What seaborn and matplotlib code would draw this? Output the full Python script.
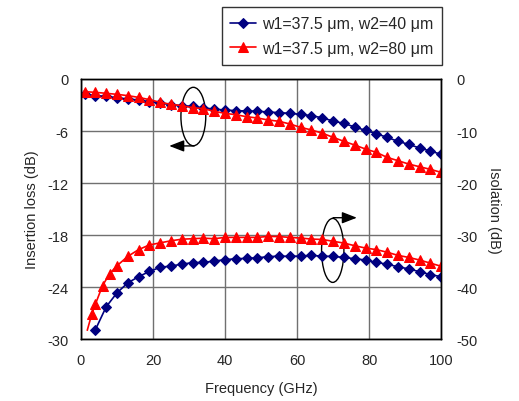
import matplotlib
matplotlib.use("Agg")
import matplotlib.pyplot as plt
from matplotlib.patches import Ellipse
import seaborn as sns
import numpy as np

# insertion loss (left axis), 1..100 GHz every 3 GHz
freq_il = list(range(1, 101, 3))
il_w40 = [-1.73, -1.92, -2.0, -2.15, -2.31, -2.42, -2.62, -2.77, -2.96, -3.08,
          -3.15, -3.33, -3.48, -3.58, -3.65, -3.69, -3.72, -3.81, -3.88, -3.96,
          -4.08, -4.23, -4.48, -4.85, -5.12, -5.54, -5.92, -6.31, -6.73, -7.19,
          -7.54, -7.96, -8.31, -8.69]
il_w80 = [-1.46, -1.54, -1.65, -1.77, -1.92, -2.12, -2.38, -2.69, -2.92, -3.08,
          -3.31, -3.42, -3.73, -3.96, -4.12, -4.35, -4.5, -4.73, -4.88, -5.19,
          -5.58, -5.88, -6.25, -6.73, -7.19, -7.62, -8.08, -8.46, -9.04, -9.42,
          -9.81, -10.12, -10.42, -10.77]

# isolation (right axis)
freq_iso_w40 = list(range(4, 101, 3))
iso_w40 = [-48.2, -43.8, -41.1, -39.2, -38.0, -37.0, -36.2, -35.96, -35.6, -35.3,
           -35.26, -35.0, -34.74, -34.55, -34.49, -34.36, -34.17, -34.04, -34.1, -34.04,
           -33.9, -34.07, -34.1, -34.3, -34.55, -34.8, -35.26, -35.6, -36.1, -36.5,
           -37.05, -37.6, -38.0]
freq_iso_w80 = [1.75, 3, 4, 6, 8, 10] + list(range(13, 101, 3))
iso_w80 = [-48.3, -45.2, -43.3, -39.7, -37.4, -35.9, -34.1, -32.8, -31.9, -31.5,
           -31.1, -30.8, -30.7, -30.6, -30.7, -30.45, -30.45, -30.45, -30.45, -30.26,
           -30.3, -30.45, -30.58, -30.77, -30.85, -31.2, -31.54, -32.05, -32.5, -32.8,
           -33.3, -33.9, -34.3, -34.8, -35.4, -36.0]

labels = ["w1=37.5 \u03bcm, w2=40 \u03bcm", "w1=37.5 \u03bcm, w2=80 \u03bcm"]
blue = "#000080"
red = "#FF0000"

sns.set_style("white")
plt.rcParams["font.family"] = ["Liberation Sans", "DejaVu Sans"]
plt.rcParams["font.size"] = 10
plt.rcParams["axes.unicode_minus"] = False

fig = plt.figure(figsize=(5.19, 4.02), dpi=100)
ax = fig.add_axes([0.156, 0.154, 0.694, 0.647])
ax2 = ax.twinx()

sns.lineplot(x=freq_il, y=il_w40, ax=ax, color=blue, marker="D", markersize=4.8,
             markeredgecolor=blue, linewidth=1.2, label=labels[0])
sns.lineplot(x=freq_il, y=il_w80, ax=ax, color=red, marker="^", markersize=6.5,
             markeredgecolor=red, linewidth=1.2, label=labels[1])
sns.lineplot(x=freq_iso_w40, y=iso_w40, ax=ax2, color=blue, marker="D", markersize=4.8,
             markeredgecolor=blue, linewidth=1.2, legend=False)
sns.lineplot(x=freq_iso_w80, y=iso_w80, ax=ax2, color=red, marker="^", markersize=6.5,
             markeredgecolor=red, linewidth=1.2, markevery=slice(1, None), legend=False)

ax.set_xlim(0, 100)
ax.set_ylim(-30, 0)
ax2.set_ylim(-50, 0)
ax.set_xticks(range(0, 101, 20))
ax.set_yticks(range(-30, 1, 6))
ax2.set_yticks(range(-50, 1, 10))
ax.grid(True, color="#707070", linewidth=1)
ax.tick_params(length=0, pad=9, labelsize=10.5)
ax.tick_params(axis="x", pad=10)
ax2.tick_params(length=0, pad=11, labelsize=10.5)
for a in (ax, ax2):
    for s in a.spines.values():
        s.set_color("black")
        s.set_linewidth(1)

ax.set_xlabel("Frequency (GHz)", fontsize=10.5, labelpad=10)
ax.set_ylabel("Insertion loss (dB)", fontsize=10.5, labelpad=6)
ax2.set_ylabel("Isolation (dB)", fontsize=10.5, rotation=270, labelpad=17)

# ellipse markers with arrows
ax.add_patch(Ellipse((31.2, -4.33), 6.9, 6.74, fill=False, edgecolor="black", linewidth=1))
ax.annotate("", xy=(24.5, -7.72), xytext=(31.4, -7.72),
            arrowprops=dict(arrowstyle="-|>,head_length=0.9,head_width=0.35",
                            color="black", lw=1, shrinkA=0, shrinkB=0))
ax.add_patch(Ellipse((69.9, -19.77), 6.2, 7.38, fill=False, edgecolor="black", linewidth=1))
ax.annotate("", xy=(76.6, -16.0), xytext=(70.0, -16.0),
            arrowprops=dict(arrowstyle="-|>,head_length=0.9,head_width=0.35",
                            color="black", lw=1, shrinkA=0, shrinkB=0))

handles, labs = ax.get_legend_handles_labels()
ax.get_legend().remove()
leg = fig.legend(handles, labs, loc="upper right", bbox_to_anchor=(0.851, 0.979),
                 frameon=True, fancybox=False, edgecolor="black", fontsize=11.5,
                 handlelength=1.6, handletextpad=0.35, borderpad=0.55,
                 labelspacing=0.6, borderaxespad=0)
leg.get_frame().set_linewidth(1)

fig.savefig("out.png", dpi=100)
